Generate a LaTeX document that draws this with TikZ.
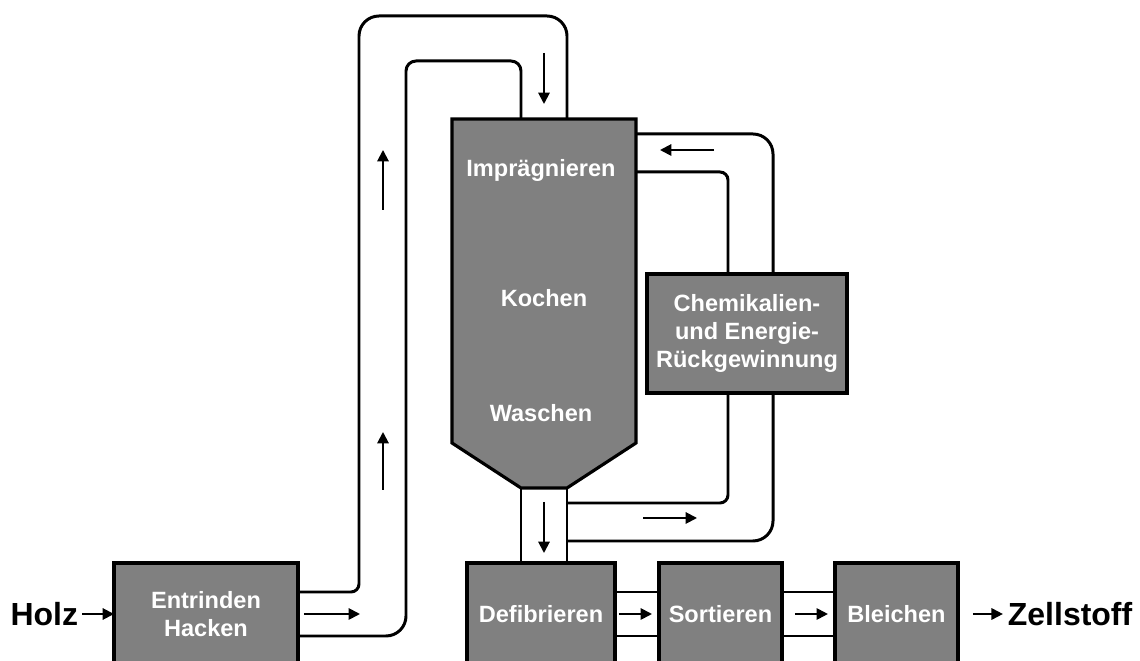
\documentclass[tikz,border=0pt]{standalone}
\usepackage{fontspec}
\setmainfont{Liberation Sans}
\usetikzlibrary{positioning,arrows.meta,calc}
\definecolor{boxgray}{RGB}{128,128,128}

\begin{document}
\begin{tikzpicture}[x=0.02cm, y=-0.02cm]
		\tikzstyle{procbox} = [rectangle, draw, fill = boxgray, line width = 1.8pt, text = white, align = center, inner sep = 0pt, outer sep = 0pt, font = \fontsize{13.4}{16.2}\selectfont\bfseries];
		\tikzstyle{vtext} = [text = white, anchor = base, inner sep = 0pt, font = \fontsize{13.4}{16.2}\selectfont\bfseries];
		\tikzstyle{endtext} = [inner sep = 0pt, outer sep = 0pt, font = \fontsize{18.2}{22}\selectfont\bfseries];
		\tikzstyle{pipe} = [draw, line width = 1.7pt];
		\tikzstyle{flow} = [draw, line width = 1.1pt, -{Triangle[length = 6.5pt, width = 6.5pt]}];
		\useasboundingbox (0,0) rectangle (1140,661);
		\clip (0,0) rectangle (1140,661);
		% boxes
		\node (entr) [procbox, minimum width = 3.68cm, minimum height = 2.04cm] at (206,614) {Entrinden\\Hacken};
		\node (defib) [procbox, minimum width = 2.96cm, minimum height = 2.04cm] at (541,614) {Defibrieren};
		\node (sort) [procbox, minimum width = 2.46cm, minimum height = 2.04cm, right = 0.88cm of defib] {Sortieren};
		\node (bleich) [procbox, minimum width = 2.46cm, minimum height = 2.04cm, right = 1.06cm of sort] {Bleichen};
		\node (chem) [procbox, minimum width = 4cm, minimum height = 2.38cm] at (747,333.5) {Chemikalien-\\und Energie-\\Rückgewinnung};
		\node (holz) [endtext, left = 0.72cm of entr] {Holz};
		\node (zell) [endtext, right = 1cm of bleich] {Zellstoff};
		% vessel
		\coordinate (vtl) at (452,119);
		\coordinate (vtr) at (636,119);
		\coordinate (vbl) at (521,488);
		\coordinate (vbr) at (567,488);
		\path [draw, fill = boxgray, line width = 1.8pt] (vtl) -- (vtr) -- (636,443) -- (vbr) -- (vbl) -- (452,443) -- cycle;
		\node (impr) [vtext] at (541,177) {Imprägnieren};
		\node (koch) [vtext] at (544,307) {Kochen};
		\node (wasch) [vtext] at (541,422) {Waschen};
		% pipes
		\path [pipe] ($(entr.east)+(0,-22)$) [rounded corners = 0.16cm] -- (359,592) [rounded corners = 0.4cm] -- (359,16) -- (567,16) -- (vbr |- vtl);
		\path [pipe] ($(entr.east)+(0,22)$) [rounded corners = 0.4cm] -- (406,636) [rounded corners = 0.2cm] -- (406,61) -- (521,61) -- (vbl |- vtl);
		\path [pipe] ($(vtr)+(0,15)$) [rounded corners = 0.4cm] -- (773,134) -- ($(chem.north)+(26,0)$);
		\path [pipe] ($(vtr)+(0,53)$) [rounded corners = 0.16cm] -- (728,172) -- ($(chem.north)+(-19,0)$);
		\path [pipe] ($(vbr)+(0,15)$) [rounded corners = 0.16cm] -- (728,503) -- ($(chem.south)+(-19,0)$);
		\path [pipe] ($(vbr)+(0,53)$) [rounded corners = 0.4cm] -- (773,541) -- ($(chem.south)+(26,0)$);
		\path [pipe] (vbl) -- (vbl |- defib.north);
		\path [pipe] (vbr) -- (vbr |- defib.north);
		\path [pipe] ($(defib.east)+(0,-22)$) -- ($(sort.west)+(0,-22)$);
		\path [pipe] ($(defib.east)+(0,22)$) -- ($(sort.west)+(0,22)$);
		\path [pipe] ($(sort.east)+(0,-22)$) -- ($(bleich.west)+(0,-22)$);
		\path [pipe] ($(sort.east)+(0,22)$) -- ($(bleich.west)+(0,22)$);
		% flow arrows
		\path [flow, shorten < = 0.08cm] (holz) -- (entr);
		\path [flow] ($(entr.east)+(6,0)$) -- ++(56,0);
		\path [flow] (383,490) -- (383,432);
		\path [flow] (383,210) -- (383,150);
		\path [flow] (544,53) -- (544,104);
		\path [flow] (714,150) -- (660,150);
		\path [flow] (544,502) -- (544,553);
		\path [flow] (643,518) -- (697,518);
		\path [flow, shorten < = 0.08cm, shorten > = 0.14cm] (defib) -- (sort);
		\path [flow, shorten < = 0.26cm, shorten > = 0.14cm] (sort) -- (bleich);
		\path [flow, shorten < = 0.3cm, shorten > = 0.1cm] (bleich) -- (zell);
	\end{tikzpicture}
\end{document}
